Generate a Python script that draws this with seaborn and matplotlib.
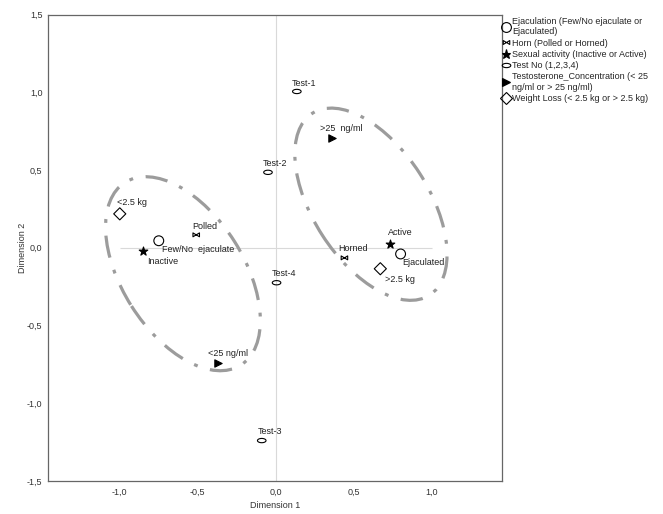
import matplotlib
matplotlib.use("Agg")
import matplotlib.pyplot as plt
import seaborn as sns
import pandas as pd
import numpy as np
from matplotlib.patches import Ellipse
from matplotlib.lines import Line2D
from matplotlib.path import Path
from matplotlib.ticker import FuncFormatter

# category points (dimension 1 / dimension 2)
labels = ["Few/No  ejaculate", "Ejaculated",
          "Polled", "Horned",
          "Inactive", "Active",
          "Test-1", "Test-2", "Test-3", "Test-4",
          "<25 ng/ml", ">25  ng/ml",
          "<2.5 kg", ">2.5 kg"]
dim1 = [-0.75, 0.80,
        -0.51, 0.44,
        -0.85, 0.73,
        0.135, -0.05, -0.09, 0.005,
        -0.37, 0.36,
        -1.00, 0.67]
dim2 = [0.045, -0.04,
        0.083, -0.065,
        -0.02, 0.025,
        1.005, 0.485, -1.24, -0.225,
        -0.74, 0.705,
        0.218, -0.135]
variable = ["Ejaculation", "Ejaculation",
            "Horn", "Horn",
            "Sexual", "Sexual",
            "Test", "Test", "Test", "Test",
            "Testosterone", "Testosterone",
            "Weight", "Weight"]

legend_labels = {
    "Ejaculation": "Ejaculation (Few/No ejaculate or\nEjaculated)",
    "Horn": "Horn (Polled or Horned)",
    "Sexual": "Sexual activity (Inactive or Active)",
    "Test": "Test No (1,2,3,4)",
    "Testosterone": "Testosterone_Concentration (< 25\nng/ml or > 25 ng/ml)",
    "Weight": "Weight Loss (< 2.5 kg or > 2.5 kg)",
}

df = pd.DataFrame({"label": labels, "dim1": dim1, "dim2": dim2, "var": variable})

# custom marker shapes
t = np.linspace(0, 2 * np.pi, 40)
oval = Path(np.column_stack([np.cos(t), 0.5 * np.sin(t)]), closed=True)
bowtie = Path([(-1, -0.6), (-1, 0.6), (0, 0), (1, 0.6), (1, -0.6), (0, 0), (-1, -0.6)], closed=True)

# marker, size, face
styles = {
    "Ejaculation": ("o", 50, "none"),
    "Horn": (bowtie, 22, "none"),
    "Sexual": ("*", 42, "black"),
    "Test": (oval, 38, "none"),
    "Testosterone": (">", 28, "black"),
    "Weight": ("D", 38, "none"),
}

# label offsets in points (dx to left edge, dy to text centre)
offsets = {
    "Few/No  ejaculate": (2, -6.5), "Ejaculated": (1.5, -6.5),
    "Polled": (-3, 6), "Horned": (-4.5, 6.5),
    "Inactive": (3, -8), "Active": (-1, 8),
    "Test-1": (-3.5, 6), "Test-2": (-3.5, 6.5), "Test-3": (-3, 6.5), "Test-4": (-3.5, 6.5),
    "<25 ng/ml": (-7, 6.5), ">25  ng/ml": (-8.5, 7),
    "<2.5 kg": (-2, 8), ">2.5 kg": (3.5, -7.5),
}

sns.set_style("white")
plt.rcParams["font.family"] = ["Liberation Sans", "DejaVu Sans"]
plt.rcParams["font.size"] = 6.5

fig = plt.figure(figsize=(6.63, 5.14), dpi=100)
ax = fig.add_axes([48 / 663, 33 / 514, 454 / 663, 466.5 / 514])

ax.axvline(0, color="#d9d9d9", lw=0.8, zorder=0)
ax.hlines(0, -1.0, 1.0, color="#d9d9d9", lw=0.8, zorder=0)

# group ellipses
ell_style = dict(fill=False, edgecolor="#9c9c9c", lw=2.3, linestyle=(0, (7, 4, 1.2, 4)), zorder=1)
ax.add_patch(Ellipse((-0.595, -0.167), 1.39, 0.78, angle=-57.8, **ell_style))
ax.add_patch(Ellipse((0.61, 0.28), 1.39, 0.74, angle=-57.3, **ell_style))

handles = []
for key, (mk, size, face) in styles.items():
    sub = df[df["var"] == key]
    sns.scatterplot(data=sub, x="dim1", y="dim2", marker=mk, s=size,
                    facecolor=face, edgecolor="black", linewidth=0.8, ax=ax, zorder=3)
    handles.append(Line2D([], [], marker=mk, linestyle="none", markersize=np.sqrt(size),
                          markerfacecolor=face, markeredgecolor="black", markeredgewidth=0.8,
                          label=legend_labels[key]))

for _, row in df.iterrows():
    dx, dy = offsets[row["label"]]
    ax.annotate(row["label"], (row["dim1"], row["dim2"]), xytext=(dx, dy),
                textcoords="offset points", ha="left", va="center",
                fontsize=6.5, color="#222222")

ax.set_xlim(-1.46, 1.45)
ax.set_ylim(-1.5, 1.5)
ax.set_xticks([-1.0, -0.5, 0.0, 0.5, 1.0])
ax.set_yticks([-1.5, -1.0, -0.5, 0.0, 0.5, 1.0, 1.5])
fmt = FuncFormatter(lambda v, p: f"{v:.1f}".replace(".", ","))
ax.xaxis.set_major_formatter(fmt)
ax.yaxis.set_major_formatter(fmt)
ax.tick_params(direction="out", length=3.6, width=0.8, color="#555555",
               labelsize=6.5, labelcolor="#333333", pad=0.3)
ax.tick_params(axis="x", pad=1.5)
ax.set_xlabel("Dimension 1", fontsize=6.5, color="#333333", labelpad=3)
ax.set_ylabel("Dimension 2", fontsize=6.5, color="#333333", labelpad=0)
for sp in ax.spines.values():
    sp.set_color("#666666")
    sp.set_linewidth(0.9)

fig.legend(handles=handles, loc="upper left", bbox_to_anchor=(502 / 663, 1 - 16 / 514),
           frameon=False, fontsize=6.5, handlelength=0.7, handletextpad=0.3,
           labelspacing=0.25, borderpad=0.1, borderaxespad=0)

fig.savefig("out.png", dpi=100)
